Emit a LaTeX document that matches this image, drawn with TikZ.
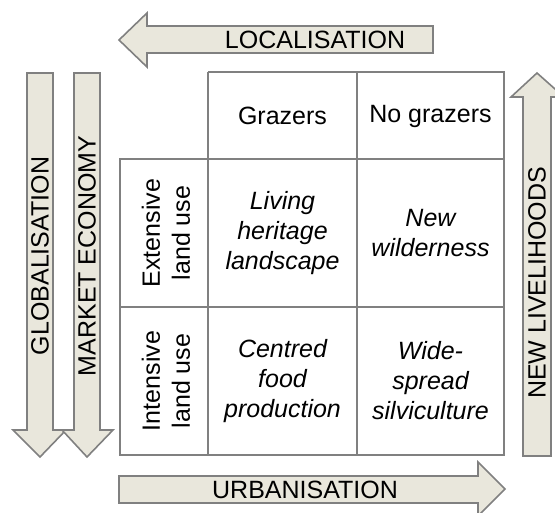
\documentclass[tikz,border=0pt]{standalone}
\usepackage{fontspec}
\setmainfont{Liberation Sans}
\definecolor{arrfill}{HTML}{E9E7DC}
\definecolor{edge}{HTML}{808080}
\begin{document}
\begin{tikzpicture}[x=1pt,y=-1pt,
  arrowshape/.style={fill=arrfill,draw=edge,line width=1.6pt,line join=miter},
  grid/.style={draw=edge,line width=2pt},
  lbl/.style={font=\fontsize{25}{30}\selectfont,inner sep=0pt,align=center},
  cell/.style={font=\fontsize{25}{30}\selectfont\itshape,inner sep=0pt,align=center}]
\useasboundingbox (0,0) rectangle (555,513);
% top arrow (left pointing)
\draw[arrowshape] (119,40) -- (147,13) -- (147,26) -- (433,26) -- (433,53) -- (147,53) -- (147,67) -- cycle;
\node[lbl] (loc) at (315,40) {LOCALISATION};
% bottom arrow (right pointing)
\draw[arrowshape] (505,489) -- (478,462) -- (478,476) -- (119,476) -- (119,503) -- (478,503) -- (478,516) -- cycle;
\node[lbl] (urb) at (305,490) {URBANISATION};
% left arrows (down)
\draw[arrowshape] (40,457) -- (13,430) -- (27,430) -- (27,73) -- (53,73) -- (53,430) -- (66,430) -- cycle;
\node[lbl,rotate=90] (glob) at (40,256) {GLOBALISATION};
\draw[arrowshape] (87,457) -- (62,430) -- (74,430) -- (74,73) -- (100,73) -- (100,430) -- (113,430) -- cycle;
\node[lbl,rotate=90] (mark) at (87,256) {MARKET ECONOMY};
% right arrow (up)
\draw[arrowshape] (537,73) -- (511,97) -- (523,97) -- (523,456) -- (551,456) -- (551,97) -- (564,97) -- cycle;
\node[lbl,rotate=90] (newl) at (537,283) {NEW LIVELIHOODS};
% table
\draw[grid] (208,72) -- (504,72) -- (504,455) -- (120,455) -- (120,159) -- (504,159);
\draw[grid] (120,307) -- (504,307);
\draw[grid] (208,72) -- (208,455);
\draw[grid] (357,72) -- (357,455);
\node[lbl] (gr) at (282.5,116) {Grazers};
\node[lbl] (ng) at (430.5,116) {No grazers};
\node[lbl,rotate=90] (ext) at (166,233) {Extensive\\land use};
\node[lbl,rotate=90] (int) at (166,381) {Intensive\\land use};
\node[cell] (lh) at (282.5,233) {Living\\heritage\\landscape};
\node[cell] (nw) at (430.5,233) {New\\wilderness};
\node[cell] (cf) at (282.5,381) {Centred\\food\\production};
\node[cell] (ws) at (430.5,381) {Wide-\\spread\\silviculture};
\end{tikzpicture}
\end{document}
